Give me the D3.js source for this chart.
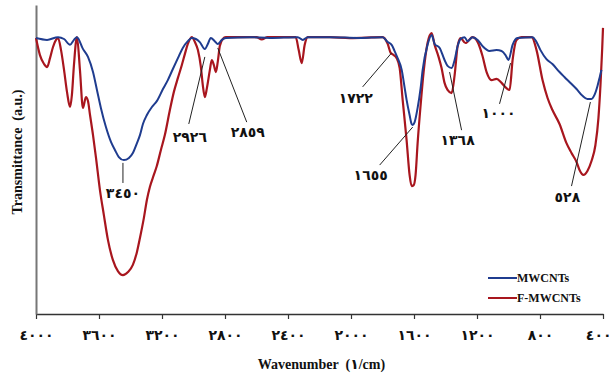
<!DOCTYPE html>
<html>
<head>
<meta charset="utf-8">
<script src="https://cdn.jsdelivr.net/npm/d3@7"></script>
<style>
  html, body { margin: 0; padding: 0; background: #fff; }
  svg { display: block; }
  text { font-family: "Liberation Serif", "Times New Roman", "DejaVu Sans", serif; font-weight: bold; fill: #111; }
</style>
</head>
<body>
<svg id="chart" width="614" height="376"></svg>
<script>
// ---------------- DATA ----------------
const seriesNames = ["MWCNTs", "F-MWCNTs"];

const xTickValues = [4000, 3600, 3200, 2800, 2400, 2000, 1600, 1200, 800, 400];
const xTickLabels = ["٤٠٠٠", "٣٦٠٠", "٣٢٠٠", "٢٨٠٠", "٢٤٠٠", "٢٠٠٠", "١٦٠٠", "١٢٠٠", "٨٠٠", "٤٠٠"];

const xTitle = "Wavenumber  (١/cm)";
const yTitle = "Transmittance  (a.u.)";

// MWCNTs (blue)
const mwcntWavenumber = [4000, 3930, 3860, 3822, 3784, 3759, 3740, 3702, 3670, 3638, 3613, 3588, 3556, 3524, 3499, 3474, 3442, 3410, 3385, 3359, 3340, 3321, 3296, 3264, 3233, 3194, 3163, 3131, 3099, 3068, 3036, 3011, 2985, 2960, 2928, 2909, 2890, 2865, 2846, 2820, 2795, 2643, 2516, 2338, 2306, 2275, 2135, 1945, 1799, 1767, 1742, 1723, 1704, 1678, 1659, 1647, 1628, 1615, 1608, 1596, 1577, 1558, 1545, 1514, 1488, 1469, 1437, 1406, 1387, 1361, 1342, 1323, 1304, 1279, 1260, 1228, 1196, 1165, 1120, 1076, 1044, 1019, 1000, 974, 943, 847, 822, 797, 759, 721, 676, 645, 613, 568, 530, 499, 473, 454, 435, 422, 410];
const mwcntT = [89.3, 88.7, 89.6, 89.0, 87.1, 88.7, 89.6, 85.8, 83.2, 78.3, 72.5, 66.7, 60.5, 55.7, 53.1, 50.8, 49.8, 50.5, 52.1, 55.3, 57.9, 61.5, 64.4, 67.0, 68.9, 72.8, 75.7, 79.3, 82.8, 86.1, 88.3, 89.3, 89.0, 88.0, 85.8, 87.4, 89.3, 88.3, 87.4, 88.7, 89.3, 89.6, 89.3, 89.6, 88.7, 89.6, 89.6, 89.3, 89.6, 88.0, 87.1, 85.1, 82.8, 79.0, 73.1, 69.3, 64.4, 61.5, 61.2, 62.1, 66.7, 73.1, 79.0, 87.1, 90.3, 87.4, 86.1, 82.2, 80.3, 79.6, 82.2, 86.7, 89.0, 89.6, 88.3, 89.6, 88.7, 86.7, 85.1, 85.4, 85.1, 83.8, 82.2, 87.1, 89.3, 89.6, 88.0, 85.4, 82.5, 80.9, 78.3, 76.7, 75.1, 72.8, 70.6, 69.6, 69.6, 70.9, 73.8, 76.4, 79.0];

// F-MWCNTs (red)
const fmwcntWavenumber = [4000, 3975, 3949, 3930, 3911, 3892, 3873, 3860, 3841, 3822, 3803, 3784, 3772, 3759, 3740, 3721, 3702, 3683, 3670, 3657, 3638, 3619, 3594, 3569, 3543, 3512, 3480, 3448, 3416, 3385, 3359, 3340, 3315, 3296, 3277, 3252, 3233, 3207, 3182, 3150, 3125, 3099, 3074, 3055, 3036, 3011, 2991, 2972, 2953, 2941, 2928, 2915, 2896, 2884, 2871, 2858, 2846, 2833, 2814, 2795, 2643, 2600, 2567, 2530, 2351, 2332, 2313, 2294, 2275, 2135, 2008, 1799, 1767, 1748, 1729, 1710, 1691, 1672, 1647, 1628, 1615, 1602, 1590, 1577, 1558, 1539, 1514, 1488, 1469, 1444, 1425, 1406, 1387, 1361, 1342, 1323, 1304, 1273, 1228, 1190, 1165, 1139, 1108, 1076, 1044, 1013, 993, 974, 949, 917, 853, 822, 784, 752, 721, 676, 632, 600, 568, 549, 524, 499, 473, 448, 429, 416, 405, 400];
const fmwcntT = [89.3, 83.8, 80.9, 79.9, 82.8, 86.4, 88.7, 89.3, 85.4, 79.0, 71.8, 67.0, 70.9, 80.6, 89.6, 79.0, 66.7, 70.2, 68.9, 64.4, 57.9, 50.5, 40.1, 32.0, 23.9, 17.5, 13.9, 12.6, 13.6, 15.9, 20.1, 24.6, 31.1, 36.9, 41.1, 45.0, 47.9, 53.1, 57.9, 66.0, 71.8, 76.4, 80.6, 84.1, 87.4, 89.6, 88.0, 85.4, 79.9, 74.1, 70.2, 73.1, 79.0, 82.2, 80.6, 78.3, 81.6, 86.7, 89.0, 89.6, 89.6, 89.6, 88.9, 89.6, 89.6, 85.4, 81.2, 87.1, 89.6, 89.6, 89.3, 89.6, 87.4, 84.5, 83.8, 82.8, 79.6, 69.3, 56.3, 45.0, 41.4, 41.7, 45.0, 55.3, 67.6, 78.3, 87.7, 90.9, 87.1, 83.2, 79.6, 74.8, 72.5, 71.5, 77.3, 86.7, 89.3, 87.7, 89.6, 87.4, 83.5, 78.3, 75.7, 76.1, 74.8, 73.1, 72.5, 82.2, 88.7, 89.6, 89.6, 85.4, 75.7, 69.9, 66.0, 61.5, 55.3, 52.1, 49.2, 46.6, 45.0, 46.3, 49.5, 54.7, 63.4, 74.1, 86.0, 92.6];

// Peak annotations
const peakLabels = ["٣٤٥٠", "٢٩٢٦", "٢٨٥٩", "١٧٢٢", "١٦٥٥", "١٣٦٨", "١٠٠٠", "٥٢٨"];
// leader start (wavenumber, T), leader end, label centre
const peakFromW = [3448, 2928, 2846, 1742, 1608, 1374, 987, 480];
const peakFromT = [48.9, 83.2, 86.1, 84.5, 60.5, 78.3, 81.2, 68.6];
const peakToW   = [3448, 3030, 2662, 1926, 1818, 1298, 1057, 600];
const peakToT   = [42.4, 61.5, 62.1, 73.5, 48.2, 59.5, 68.0, 41.4];
const peakTextW = [3448, 3023, 2655, 1970, 1875, 1323, 1063, 626];
const peakTextT = [39.2, 57.3, 58.9, 69.9, 45.0, 56.3, 65.0, 37.9];

// ---------------- DRAW ----------------
const svg = d3.select("#chart");
const plotLeft = 36, plotRight = 603, plotTop = 5, plotBottom = 314;

const x = d3.scaleLinear().domain([4000, 400]).range([plotLeft, plotRight]);
const y = d3.scaleLinear().domain([0, 100]).range([plotBottom, plotTop]);

const blueColor = "#1f3c8f";
const redColor = "#a8161e";

// axes
const xAxis = d3.axisBottom(x)
  .tickValues(xTickValues)
  .tickFormat((d, i) => xTickLabels[i])
  .tickSize(5)
  .tickSizeOuter(0);
const gx = svg.append("g").attr("transform", `translate(0,${plotBottom})`).call(xAxis);
gx.select(".domain").attr("stroke", "#333").attr("stroke-width", 1.3);
gx.selectAll(".tick line").attr("stroke", "#333").attr("stroke-width", 1.2);
gx.selectAll(".tick text")
  .attr("y", 21)
  .attr("dy", "0.35em")
  .style("font-size", "14px")
  .style("letter-spacing", "1.5px")
  .style("font-family", '"Liberation Serif", "DejaVu Sans", serif')
  .style("font-weight", "bold")
  .style("fill", "#111");
// keep the last label inside the window
gx.selectAll(".tick text").filter(d => d === 400)
  .attr("text-anchor", "end").attr("x", 8);

const yAxis = d3.axisLeft(y).tickValues([]).tickSizeOuter(0);
const gy = svg.append("g").attr("transform", `translate(${plotLeft},0)`).call(yAxis);
gy.select(".domain").attr("stroke", "#777").attr("stroke-width", 2);

// titles
svg.append("text")
  .attr("x", (plotLeft + plotRight) / 2 + 2)
  .attr("y", 364)
  .attr("dy", "0.35em")
  .attr("text-anchor", "middle")
  .style("font-size", "14px")
  .style("white-space", "pre")
  .text(xTitle);

svg.append("text")
  .attr("transform", `translate(17,152) rotate(-90)`)
  .attr("dy", "0.35em")
  .attr("text-anchor", "middle")
  .style("font-size", "14px")
  .style("white-space", "pre")
  .text(yTitle);

// lines
const line = d3.line()
  .x(d => x(d[0]))
  .y(d => y(d[1]))
  .curve(d3.curveMonotoneX);

const blueData = mwcntWavenumber.map((w, i) => [w, mwcntT[i]]);
const redData = fmwcntWavenumber.map((w, i) => [w, fmwcntT[i]]);

svg.append("path").datum(redData)
  .attr("fill", "none").attr("stroke", redColor).attr("stroke-width", 2.2)
  .attr("stroke-linejoin", "round")
  .attr("d", line);

svg.append("path").datum(blueData)
  .attr("fill", "none").attr("stroke", blueColor).attr("stroke-width", 2)
  .attr("stroke-linejoin", "round")
  .attr("d", line);

// annotations
const ann = svg.append("g");
peakLabels.forEach((lab, i) => {
  ann.append("line")
    .attr("x1", x(peakFromW[i])).attr("y1", y(peakFromT[i]))
    .attr("x2", x(peakToW[i])).attr("y2", y(peakToT[i]))
    .attr("stroke", "#222").attr("stroke-width", 1);
  ann.append("text")
    .attr("x", x(peakTextW[i])).attr("y", y(peakTextT[i]))
    .attr("dy", "0.35em")
    .attr("text-anchor", "middle")
    .style("font-size", "14px")
    .style("letter-spacing", "1px")
    .text(lab);
});

// legend
const legend = svg.append("g");
const legendColors = [blueColor, redColor];
seriesNames.forEach((name, i) => {
  const ly = 278 + i * 20;
  legend.append("line")
    .attr("x1", 488).attr("x2", 517).attr("y1", ly).attr("y2", ly)
    .attr("stroke", legendColors[i]).attr("stroke-width", 2);
  legend.append("text")
    .attr("x", 517).attr("y", ly).attr("dy", "0.35em")
    .style("font-size", "12px")
    .text(name);
});
</script>
</body>
</html>
